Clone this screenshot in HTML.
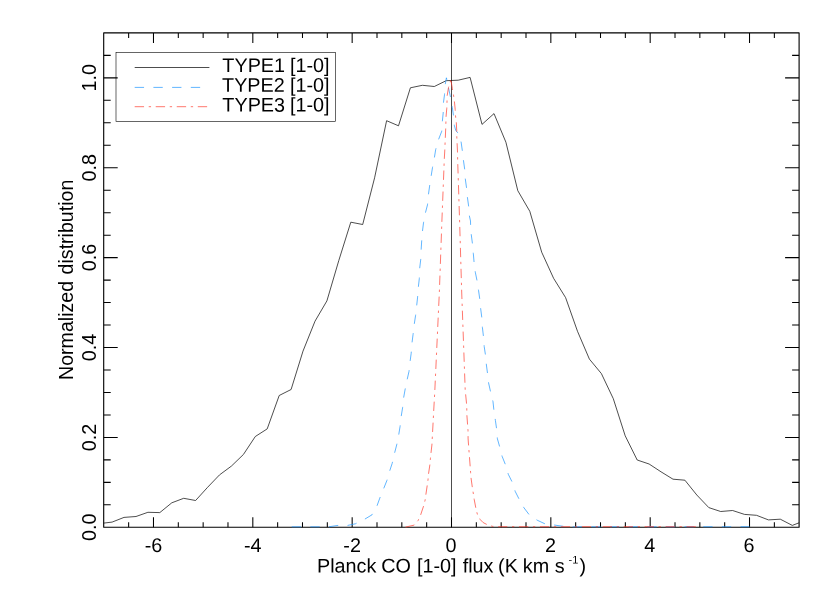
<!DOCTYPE html>
<html><head><meta charset="utf-8"><title>plot</title>
<style>
html,body{margin:0;padding:0;background:#fff;}
svg{display:block;will-change:transform;}
text{font-family:"Liberation Sans",sans-serif;fill:#000;}
</style></head><body>
<svg width="830" height="593" viewBox="0 0 830 593">
<g stroke="#000" stroke-width="1.12" fill="none" stroke-linejoin="round">
<rect x="103.7" y="32.9" width="695.4" height="494.4"/>
<path stroke-width="1.05" d="M128.64 527.3v-5 M128.64 32.9v5"/>
<path stroke-width="1.05" d="M153.48 527.3v-10 M153.48 32.9v10"/>
<path stroke-width="1.05" d="M178.31 527.3v-5 M178.31 32.9v5"/>
<path stroke-width="1.05" d="M203.15 527.3v-5 M203.15 32.9v5"/>
<path stroke-width="1.05" d="M227.98 527.3v-5 M227.98 32.9v5"/>
<path stroke-width="1.05" d="M252.82 527.3v-10 M252.82 32.9v10"/>
<path stroke-width="1.05" d="M277.65 527.3v-5 M277.65 32.9v5"/>
<path stroke-width="1.05" d="M302.49 527.3v-5 M302.49 32.9v5"/>
<path stroke-width="1.05" d="M327.32 527.3v-5 M327.32 32.9v5"/>
<path stroke-width="1.05" d="M352.16 527.3v-10 M352.16 32.9v10"/>
<path stroke-width="1.05" d="M377.00 527.3v-5 M377.00 32.9v5"/>
<path stroke-width="1.05" d="M401.83 527.3v-5 M401.83 32.9v5"/>
<path stroke-width="1.05" d="M426.67 527.3v-5 M426.67 32.9v5"/>
<path stroke-width="1.05" d="M451.50 527.3v-10 M451.50 32.9v10"/>
<path stroke-width="1.05" d="M476.33 527.3v-5 M476.33 32.9v5"/>
<path stroke-width="1.05" d="M501.17 527.3v-5 M501.17 32.9v5"/>
<path stroke-width="1.05" d="M526.00 527.3v-5 M526.00 32.9v5"/>
<path stroke-width="1.05" d="M550.84 527.3v-10 M550.84 32.9v10"/>
<path stroke-width="1.05" d="M575.67 527.3v-5 M575.67 32.9v5"/>
<path stroke-width="1.05" d="M600.51 527.3v-5 M600.51 32.9v5"/>
<path stroke-width="1.05" d="M625.35 527.3v-5 M625.35 32.9v5"/>
<path stroke-width="1.05" d="M650.18 527.3v-10 M650.18 32.9v10"/>
<path stroke-width="1.05" d="M675.01 527.3v-5 M675.01 32.9v5"/>
<path stroke-width="1.05" d="M699.85 527.3v-5 M699.85 32.9v5"/>
<path stroke-width="1.05" d="M724.68 527.3v-5 M724.68 32.9v5"/>
<path stroke-width="1.05" d="M749.52 527.3v-10 M749.52 32.9v10"/>
<path stroke-width="1.05" d="M774.36 527.3v-5 M774.36 32.9v5"/>
<path stroke-width="1.05" d="M103.7 504.83h7 M799.1 504.83h-7"/>
<path stroke-width="1.05" d="M103.7 482.35h7 M799.1 482.35h-7"/>
<path stroke-width="1.05" d="M103.7 459.88h7 M799.1 459.88h-7"/>
<path stroke-width="1.05" d="M103.7 437.41h14 M799.1 437.41h-14"/>
<path stroke-width="1.05" d="M103.7 414.94h7 M799.1 414.94h-7"/>
<path stroke-width="1.05" d="M103.7 392.46h7 M799.1 392.46h-7"/>
<path stroke-width="1.05" d="M103.7 369.99h7 M799.1 369.99h-7"/>
<path stroke-width="1.05" d="M103.7 347.52h14 M799.1 347.52h-14"/>
<path stroke-width="1.05" d="M103.7 325.05h7 M799.1 325.05h-7"/>
<path stroke-width="1.05" d="M103.7 302.57h7 M799.1 302.57h-7"/>
<path stroke-width="1.05" d="M103.7 280.10h7 M799.1 280.10h-7"/>
<path stroke-width="1.05" d="M103.7 257.63h14 M799.1 257.63h-14"/>
<path stroke-width="1.05" d="M103.7 235.15h7 M799.1 235.15h-7"/>
<path stroke-width="1.05" d="M103.7 212.68h7 M799.1 212.68h-7"/>
<path stroke-width="1.05" d="M103.7 190.21h7 M799.1 190.21h-7"/>
<path stroke-width="1.05" d="M103.7 167.74h14 M799.1 167.74h-14"/>
<path stroke-width="1.05" d="M103.7 145.26h7 M799.1 145.26h-7"/>
<path stroke-width="1.05" d="M103.7 122.79h7 M799.1 122.79h-7"/>
<path stroke-width="1.05" d="M103.7 100.32h7 M799.1 100.32h-7"/>
<path stroke-width="1.05" d="M103.7 77.85h14 M799.1 77.85h-14"/>
<path stroke-width="1.05" d="M103.7 55.37h7 M799.1 55.37h-7"/>
</g>
<polyline points="103.7,523.1 112.1,522.1 124.0,517.4 136.0,516.5 147.9,512.3 159.8,512.6 171.8,502.8 183.7,498.3 195.6,500.5 207.6,487.3 219.5,474.9 231.4,466.1 243.4,454.5 255.3,436.5 267.2,428.9 279.2,395.5 291.1,389.5 303.0,351.1 315.0,321.2 326.9,300.9 338.8,260.5 350.8,222.2 362.7,224.5 374.6,177.8 386.6,120.7 398.5,125.8 410.4,87.8 422.4,85.3 434.3,86.5 446.2,80.7 458.2,80.2 470.1,77.4 482.0,124.4 494.0,113.6 505.9,142.2 517.8,190.7 529.8,211.3 541.7,252.2 553.6,278.3 565.6,297.6 577.5,331.3 589.4,359.1 601.4,373.6 613.3,398.7 625.2,435.8 637.2,460.0 649.1,464.0 661.0,471.8 673.0,479.2 684.9,480.2 696.8,495.0 708.8,507.6 720.7,511.5 732.6,510.5 744.5,514.4 756.5,515.3 768.4,519.9 780.3,519.2 792.3,525.4 799.1,522.8" fill="none" stroke="#000" stroke-width="0.70" stroke-linejoin="round"/>
<line x1="451.5" y1="32.9" x2="451.5" y2="527.3" stroke="#000" stroke-width="0.70"/>
<polyline points="291.7,526.8 301.0,526.8 310.3,526.8 320.0,526.8 328.8,526.8 338.0,525.4 347.3,525.5 355.4,523.8 364.2,519.5 372.0,514.8 376.7,506.7 379.8,498.1 383.3,489.5 386.9,480.5 389.4,471.8 392.2,463.3 394.4,453.7 396.7,444.9 398.6,435.5 400.1,426.3 401.1,417.0 402.6,407.7 403.5,398.4 405.0,390.0 407.0,380.2 409.0,371.4 410.0,362.2 411.2,353.2 411.9,343.6 413.1,334.2 414.2,324.6 415.6,315.3 416.6,306.4 417.6,297.1 418.3,287.5 419.3,278.6 419.6,269.0 420.7,259.8 421.1,250.3 421.7,240.9 422.4,231.8 423.5,222.8 425.3,213.3 427.5,204.8 428.4,194.8 429.6,186.1 431.1,176.3 432.5,167.5 434.3,158.2 435.7,149.5 438.4,139.9 441.8,131.1 442.3,121.8 443.2,113.0 443.4,103.1 444.5,94.7 445.3,84.1 446.4,77.8 446.9,79.6" fill="none" stroke="#1e96ff" stroke-width="0.70" stroke-dasharray="9.325 9.325"/>
<polyline points="448.5,87.9 450.6,97.6 452.3,107.5 453.6,116.2 454.4,125.6 455.8,130.7 458.8,133.6 461.1,142.0 462.4,151.2 463.5,160.8 464.7,169.3 465.3,178.9 466.6,188.3 467.5,198.0 468.7,206.6 469.4,216.0 470.5,221.0 470.6,225.8 471.3,234.9 472.5,244.1 473.3,253.3 474.1,262.6 475.3,272.2 477.1,281.0 478.5,290.2 479.8,299.3 480.7,308.9 481.9,318.3 482.4,327.4 483.5,336.9 484.2,346.5 485.6,355.8 486.4,365.0 487.6,374.0 488.6,383.0 490.5,391.5 493.0,401.7 493.9,410.1 495.4,420.4 496.6,428.8 497.4,438.8 499.8,447.2 502.1,456.3 505.7,465.3 508.3,474.3 512.5,482.7 515.2,491.4 519.5,499.9 523.9,507.7 530.0,515.8 537.2,520.2 544.9,523.8 554.0,525.0 563.3,526.3 571.8,526.8 749.5,526.7" fill="none" stroke="#1e96ff" stroke-width="0.70" stroke-dasharray="9.325 9.325"/>
<polyline points="405.5,527.1 414.2,525.1 418.1,520.5 420.7,514.7 423.6,506.0 425.1,500.2 425.8,495.1 427.2,485.6 428.0,479.8 428.4,474.8 429.9,464.6 430.4,458.8 430.9,453.7 431.9,445.0 432.4,435.5 433.7,411.0 434.8,391.0 439.4,291.0 441.9,221.0 444.3,158.9 444.8,150.0 445.3,137.8 445.7,129.0 446.1,116.0 446.8,108.2 447.2,95.5 448.5,87.5 450.7,80.3" fill="none" stroke="#ff3c2e" stroke-width="0.70" stroke-dasharray="9.35 4.67 2.34 4.67"/>
<polyline points="451.0,80.8 452.3,88.3 453.5,95.1 454.4,101.4 455.2,109.4 455.5,115.9 456.3,122.2 456.7,130.2 456.8,137.0 457.1,143.3 457.5,152.2 457.6,158.0 459.6,221.0 461.7,292.0 465.2,390.0 466.7,405.2 466.9,415.3 468.0,430.5 468.1,438.9 469.1,452.4 469.5,457.5 470.2,466.8 470.6,472.6 471.0,477.7 472.4,487.8 473.4,494.0 474.2,499.4 476.0,508.9 477.4,514.4 480.3,519.7 483.2,522.6 486.9,524.5 492.2,526.3 498.5,526.7 507.9,526.7 697.0,526.7" fill="none" stroke="#ff3c2e" stroke-width="0.70" stroke-dasharray="9.31 4.65 2.33 4.65"/>
<rect x="116.0" y="52.45" width="219.5" height="69.0" fill="none" stroke="#000" stroke-width="0.6"/>
<line x1="134.7" y1="67.5" x2="209.4" y2="67.5" stroke="#000" stroke-width="0.70"/>
<line x1="134.7" y1="87.4" x2="209.4" y2="87.4" stroke="#1e96ff" stroke-width="0.70" stroke-dasharray="9.35 9.35"/>
<line x1="134.7" y1="106.7" x2="209.4" y2="106.7" stroke="#ff3c2e" stroke-width="0.70" stroke-dasharray="9.35 4.67 2.34 4.67"/>
<text transform="translate(222.35 71.90) rotate(0.03)" font-size="19.8">TYPE1</text>
<text transform="translate(290.00 71.90) rotate(0.03)" font-size="19.8">[1-0]</text>
<text transform="translate(222.09 91.75) rotate(0.03)" font-size="19.8">TYPE2</text>
<text transform="translate(290.01 91.75) rotate(0.03)" font-size="19.8">[1-0]</text>
<text transform="translate(222.35 111.60) rotate(0.03)" font-size="19.8">TYPE3</text>
<text transform="translate(290.00 111.60) rotate(0.03)" font-size="19.8">[1-0]</text>
<text transform="translate(316.99 572.40) rotate(0.03)" font-size="19.8">Planck</text>
<text transform="translate(381.24 572.40) rotate(0.03)" font-size="19.8">CO</text>
<text transform="translate(417.00 572.40) rotate(0.03)" font-size="19.8">[1-0]</text>
<text transform="translate(462.73 572.40) rotate(0.03)" font-size="19.8">flux</text>
<text transform="translate(498.06 572.40) rotate(0.03)" font-size="19.8">(K</text>
<text transform="translate(522.80 572.40) rotate(0.03)" font-size="19.8">km</text>
<text transform="translate(554.64 572.40) rotate(0.03)" font-size="19.8">s</text>
<text transform="translate(579.50 572.40) rotate(0.03)" font-size="19.8">)</text>
<text transform="translate(568.60 563.60) rotate(0.03)" font-size="11.0">-1</text>
<text transform="translate(153.48 552.0) rotate(0.03)" font-size="19.8" text-anchor="middle">-6</text>
<text transform="translate(252.82 552.0) rotate(0.03)" font-size="19.8" text-anchor="middle">-4</text>
<text transform="translate(352.16 552.0) rotate(0.03)" font-size="19.8" text-anchor="middle">-2</text>
<text transform="translate(451.10 552.0) rotate(0.03)" font-size="19.8" text-anchor="middle">0</text>
<text transform="translate(550.44 552.0) rotate(0.03)" font-size="19.8" text-anchor="middle">2</text>
<text transform="translate(649.78 552.0) rotate(0.03)" font-size="19.8" text-anchor="middle">4</text>
<text transform="translate(749.12 552.0) rotate(0.03)" font-size="19.8" text-anchor="middle">6</text>
<text transform="translate(95.7 527.3) rotate(-90)" font-size="19.8" text-anchor="middle">0.0</text>
<text transform="translate(95.7 437.4) rotate(-90)" font-size="19.8" text-anchor="middle">0.2</text>
<text transform="translate(95.7 347.5) rotate(-90)" font-size="19.8" text-anchor="middle">0.4</text>
<text transform="translate(95.7 257.6) rotate(-90)" font-size="19.8" text-anchor="middle">0.6</text>
<text transform="translate(95.7 167.7) rotate(-90)" font-size="19.8" text-anchor="middle">0.8</text>
<text transform="translate(95.7 77.8) rotate(-90)" font-size="19.8" text-anchor="middle">1.0</text>
<text transform="translate(73 380.0) rotate(-90)" font-size="19.6">Normalized</text>
<text transform="translate(73 274.4) rotate(-90)" font-size="19.6">distribution</text>
</svg></body></html>
